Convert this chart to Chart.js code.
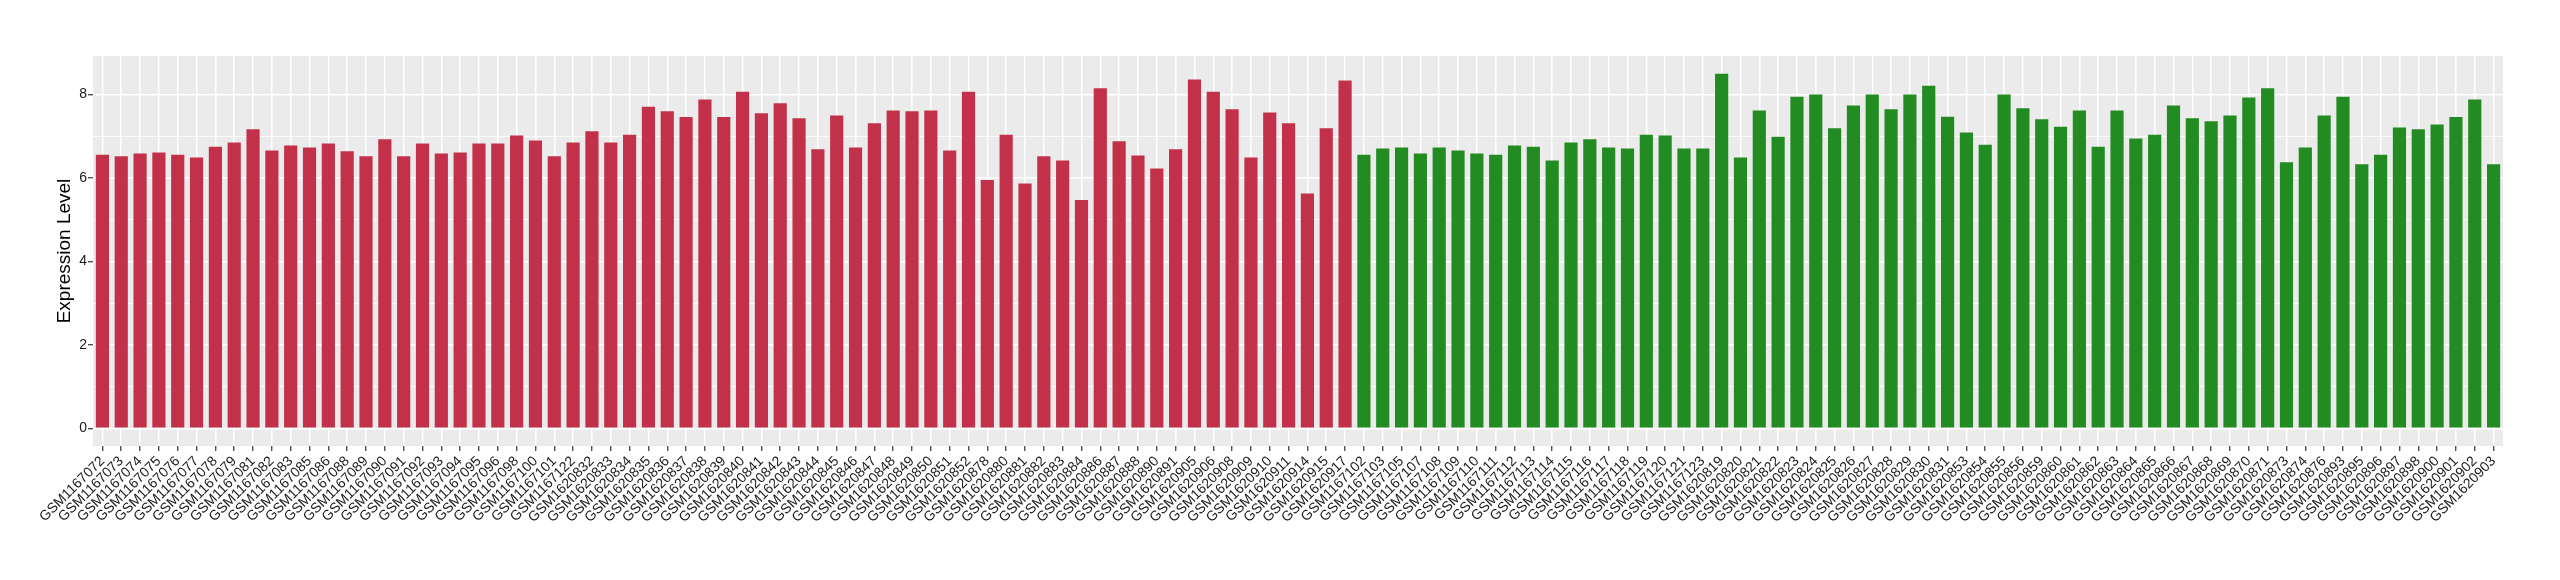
<!DOCTYPE html>
<html lang="en">
<head>
    <meta charset="UTF-8">
    <title>Expression Level</title>
    <script src="https://cdn.jsdelivr.net/npm/chart.js"></script>
    <style>
        body { margin: 0; background: #fff; }
    </style>
</head>
<body>
    <canvas id="exprChart" width="2560" height="580"></canvas>
    <script>
        // first group (red bars)
        const groupASamples = [
            'GSM1167072', 'GSM1167073', 'GSM1167074', 'GSM1167075', 'GSM1167076', 'GSM1167077', 'GSM1167078',
            'GSM1167079', 'GSM1167081', 'GSM1167082', 'GSM1167083', 'GSM1167085', 'GSM1167086', 'GSM1167088',
            'GSM1167089', 'GSM1167090', 'GSM1167091', 'GSM1167092', 'GSM1167093', 'GSM1167094', 'GSM1167095',
            'GSM1167096', 'GSM1167098', 'GSM1167100', 'GSM1167101', 'GSM1167122', 'GSM1620832', 'GSM1620833',
            'GSM1620834', 'GSM1620835', 'GSM1620836', 'GSM1620837', 'GSM1620838', 'GSM1620839', 'GSM1620840',
            'GSM1620841', 'GSM1620842', 'GSM1620843', 'GSM1620844', 'GSM1620845', 'GSM1620846', 'GSM1620847',
            'GSM1620848', 'GSM1620849', 'GSM1620850', 'GSM1620851', 'GSM1620852', 'GSM1620878', 'GSM1620880',
            'GSM1620881', 'GSM1620882', 'GSM1620883', 'GSM1620884', 'GSM1620886', 'GSM1620887', 'GSM1620888',
            'GSM1620890', 'GSM1620891', 'GSM1620905', 'GSM1620906', 'GSM1620908', 'GSM1620909', 'GSM1620910',
            'GSM1620911', 'GSM1620914', 'GSM1620915', 'GSM1620917'
        ];
        const groupAValues = [
            6.56, 6.52, 6.59, 6.61, 6.56, 6.49, 6.75,
            6.85, 7.17, 6.66, 6.78, 6.73, 6.83, 6.64,
            6.52, 6.93, 6.52, 6.83, 6.59, 6.61, 6.83,
            6.83, 7.02, 6.90, 6.52, 6.85, 7.12, 6.85,
            7.04, 7.71, 7.60, 7.46, 7.88, 7.46, 8.07,
            7.55, 7.79, 7.43, 6.69, 7.50, 6.73, 7.31,
            7.62, 7.60, 7.62, 6.66, 8.07, 5.95, 7.04,
            5.87, 6.52, 6.42, 5.47, 8.15, 6.88, 6.54,
            6.23, 6.69, 8.36, 8.07, 7.65, 6.49, 7.57,
            7.31, 5.63, 7.19, 8.34
        ];

        // second group (green bars)
        const groupBSamples = [
            'GSM1167102', 'GSM1167103', 'GSM1167105', 'GSM1167107', 'GSM1167108', 'GSM1167109', 'GSM1167110',
            'GSM1167111', 'GSM1167112', 'GSM1167113', 'GSM1167114', 'GSM1167115', 'GSM1167116', 'GSM1167117',
            'GSM1167118', 'GSM1167119', 'GSM1167120', 'GSM1167121', 'GSM1167123', 'GSM1620819', 'GSM1620820',
            'GSM1620821', 'GSM1620822', 'GSM1620823', 'GSM1620824', 'GSM1620825', 'GSM1620826', 'GSM1620827',
            'GSM1620828', 'GSM1620829', 'GSM1620830', 'GSM1620831', 'GSM1620853', 'GSM1620854', 'GSM1620855',
            'GSM1620856', 'GSM1620859', 'GSM1620860', 'GSM1620861', 'GSM1620862', 'GSM1620863', 'GSM1620864',
            'GSM1620865', 'GSM1620866', 'GSM1620867', 'GSM1620868', 'GSM1620869', 'GSM1620870', 'GSM1620871',
            'GSM1620873', 'GSM1620874', 'GSM1620876', 'GSM1620893', 'GSM1620895', 'GSM1620896', 'GSM1620897',
            'GSM1620898', 'GSM1620900', 'GSM1620901', 'GSM1620902', 'GSM1620903'
        ];
        const groupBValues = [
            6.56, 6.71, 6.73, 6.59, 6.73, 6.66, 6.59,
            6.56, 6.78, 6.75, 6.42, 6.85, 6.93, 6.73,
            6.71, 7.04, 7.02, 6.71, 6.71, 8.50, 6.49,
            7.62, 6.99, 7.95, 8.00, 7.19, 7.74, 8.00,
            7.65, 8.00, 8.21, 7.47, 7.09, 6.80, 8.00,
            7.67, 7.41, 7.23, 7.62, 6.75, 7.62, 6.95,
            7.04, 7.74, 7.43, 7.36, 7.50, 7.93, 8.15,
            6.38, 6.73, 7.50, 7.95, 6.33, 6.56, 7.21,
            7.17, 7.28, 7.46, 7.88, 6.33
        ];

        const yTicks = [0, 2, 4, 6, 8];
        const redFill = '#C3304A';
        const greenFill = '#228B22';

        const labels = groupASamples.concat(groupBSamples);
        const values = groupAValues.concat(groupBValues);
        const colors = groupASamples.map(() => redFill).concat(groupBSamples.map(() => greenFill));

        const fontFamily = "'Liberation Sans', Arial, Helvetica, sans-serif";

        // grey panel behind the plot, ggplot style
        const panelBg = {
            id: 'panelBg',
            beforeDraw(chart) {
                const { ctx, chartArea: a } = chart;
                ctx.save();
                ctx.fillStyle = '#ffffff';
                ctx.fillRect(0, 0, chart.width, chart.height);
                ctx.fillStyle = '#EBEBEB';
                ctx.fillRect(a.left, a.top, a.right - a.left, a.bottom - a.top);
                ctx.restore();
            }
        };

        const isMajor = v => yTicks.includes(v);

        new Chart(document.getElementById('exprChart'), {
            type: 'bar',
            data: {
                labels: labels,
                datasets: [{
                    label: 'Expression Level',
                    data: values,
                    backgroundColor: colors,
                    borderWidth: 0,
                    barPercentage: 0.7,
                    categoryPercentage: 1.0
                }]
            },
            options: {
                responsive: false,
                animation: false,
                layout: {
                    padding: { left: 43, right: 57, top: 56, bottom: 14 }
                },
                plugins: {
                    legend: { display: false },
                    tooltip: { enabled: false }
                },
                scales: {
                    x: {
                        offset: true,
                        grid: {
                            offset: false,
                            color: '#ffffff',
                            lineWidth: 1.5,
                            drawTicks: true,
                            tickLength: 5,
                            tickColor: '#333333',
                            tickWidth: 1.2
                        },
                        border: { display: false },
                        ticks: {
                            autoSkip: false,
                            minRotation: 45,
                            maxRotation: 45,
                            padding: 2,
                            color: '#1a1a1a',
                            font: { family: fontFamily, size: 14 }
                        },
                        afterFit(scale) { scale.height = 120; }
                    },
                    y: {
                        min: -0.425,
                        max: 8.925,
                        afterBuildTicks(scale) {
                            scale.ticks = [0, 1, 2, 3, 4, 5, 6, 7, 8].map(v => ({ value: v }));
                        },
                        grid: {
                            color: '#ffffff',
                            lineWidth: c => isMajor(c.tick.value) ? 1.5 : 0.8,
                            tickLength: 5,
                            tickColor: c => isMajor(c.tick.value) ? '#333333' : 'rgba(0,0,0,0)',
                            tickWidth: 1.2
                        },
                        border: { display: false },
                        ticks: {
                            padding: 1,
                            color: '#1a1a1a',
                            font: { family: fontFamily, size: 14 },
                            callback: v => isMajor(v) ? v : ''
                        },
                        title: {
                            display: true,
                            text: 'Expression Level',
                            color: '#000000',
                            font: { family: fontFamily, size: 19 },
                            padding: { top: 10, bottom: 0 }
                        },
                        afterFit(scale) { scale.width = 50; }
                    }
                }
            },
            plugins: [panelBg]
        });
    </script>
</body>
</html>
